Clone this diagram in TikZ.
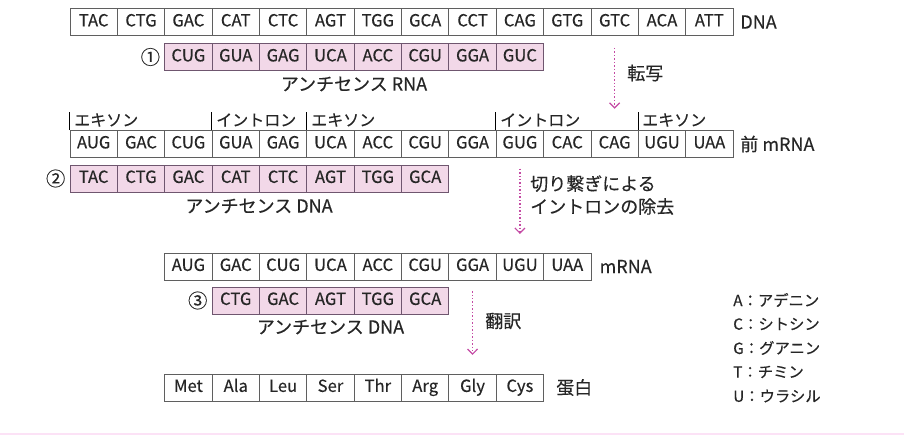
\documentclass[tikz,border=0pt]{standalone}
\usepackage{fontspec}
\setmainfont{Noto Sans CJK JP}[FakeBold=0.3]
\usetikzlibrary{positioning,arrows.meta}

\definecolor{antisense}{RGB}{242,216,232}
\definecolor{boxline}{RGB}{95,95,95}
\definecolor{flow}{RGB}{196,74,164}
\definecolor{rule}{RGB}{252,226,246}

\tikzset{
  codon/.style={draw=boxline, line width=0.6pt, minimum width=35.52pt,
    minimum height=20.25pt, inner sep=0pt, text height=0.66em, text depth=0pt},
  anti/.style={codon, fill=antisense, draw=boxline!90!magenta},
  tag/.style={inner sep=0pt, font=\fontsize{13.5}{16}\selectfont},
  seg/.style={inner sep=0pt, anchor=west, font=\fontsize{12}{14}\selectfont},
  base/.style={inner sep=0pt, anchor=west, font=\fontsize{11.5}{14}\selectfont},
  flowarrow/.style={draw=flow, line width=1.2pt, dash pattern=on 1.1pt off 1.5pt,
    -{Straight Barb[length=3.8pt,width=7.5pt,line width=0.9pt]}}
}

\begin{document}
\begin{tikzpicture}[x=0.75pt, y=-0.75pt, text=black!85,
  font=\fontsize{12.5}{15}\selectfont]
\useasboundingbox (0,0) rectangle (904,435);

% DNA
\foreach \c [count=\i] in {TAC,CTG,GAC,CAT,CTC,AGT,TGG,GCA,CCT,CAG,GTG,GTC,ACA,ATT}
  \node[codon] (dna\i) at ({70+47.36*(\i-0.5)},22) {\c};
\node[tag, right=5pt of dna14] (dna-label) {DNA};

% (1) antisense RNA
\foreach \c [count=\i] in {CUG,GUA,GAG,UCA,ACC,CGU,GGA,GUC}
  \node[anti] (asr\i) at ({70+47.36*(\i+1.5)},57) {\c};
\node[tag, left=3pt of asr1, font=\fontsize{14.5}{16}\selectfont] (num1) {①};
\node[tag] (asr-label) at (354,84) {アンチセンス RNA};

% transcription
\node[tag, anchor=west] (tx-label) at (627,73) {転写};

% pre-mRNA
\foreach \c [count=\i] in {AUG,GAC,CUG,GUA,GAG,UCA,ACC,CGU,GGA,GUG,CAC,CAG,UGU,UAA}
  \node[codon] (pre\i) at ({70+47.36*(\i-0.5)},144) {\c};
\node[tag, right=5pt of pre14] (pre-label) {前 mRNA};
\draw[line width=0.6pt] (pre1.north west) -- ++(0,-18);
\draw[line width=0.6pt] (pre4.north west) -- ++(0,-18);
\draw[line width=0.6pt] (pre6.north west) -- ++(0,-18);
\draw[line width=0.6pt] (pre10.north west) -- ++(0,-18);
\draw[line width=0.6pt] (pre13.north west) -- ++(0,-18);
\node[seg] (exon1) at (74,120) {エキソン};
\node[seg] (intron1) at (216,120) {イントロン};
\node[seg] (exon2) at (311,120) {エキソン};
\node[seg] (intron2) at (500,120) {イントロン};
\node[seg] (exon3) at (642,120) {エキソン};
\draw[flowarrow] ([yshift=-9pt]dna12.south) -- ([yshift=16pt]pre12.north);

% (2) antisense DNA
\foreach \c [count=\i] in {TAC,CTG,GAC,CAT,CTC,AGT,TGG,GCA}
  \node[anti] (asd\i) at ({70+47.36*(\i-0.5)},178.5) {\c};
\node[tag, left=3pt of asd1, font=\fontsize{14.5}{16}\selectfont] (num2) {②};
\node[tag] (asd-label) at (259,206) {アンチセンス DNA};

% splicing
\node[tag, anchor=north west, align=left] (splice-label) at (530,175)
  {切り繋ぎによる\\[1.2pt]イントロンの除去};

% mRNA
\foreach \c [count=\i] in {AUG,GAC,CUG,UCA,ACC,CGU,GGA,UGU,UAA}
  \node[codon] (mrna\i) at ({70+47.36*(\i+1.5)},266.5) {\c};
\node[tag, right=6pt of mrna9] (mrna-label) {mRNA};
\draw[flowarrow] ([yshift=-8pt]pre10.south) -- ([yshift=14pt]mrna8.north);

% (3) antisense DNA
\foreach \c [count=\i] in {CTG,GAC,AGT,TGG,GCA}
  \node[anti] (ast\i) at ({70+47.36*(\i+2.5)},300.5) {\c};
\node[tag, left=3pt of ast1, font=\fontsize{14.5}{16}\selectfont] (num3) {③};
\node[tag] (ast-label) at (330.5,327) {アンチセンス DNA};

% translation
\node[tag, anchor=west] (tl-label) at (485,321) {翻訳};

% protein
\foreach \c [count=\i] in {Met,Ala,Leu,Ser,Thr,Arg,Gly,Cys}
  \node[codon] (prot\i) at ({70+47.36*(\i+1.5)},387.5) {\c};
\node[tag, right=9pt of prot8] (prot-label) {蛋白};
\draw[flowarrow] ([yshift=-8pt]mrna7.south) -- ([yshift=14pt]prot7.north);

% bases
\node[base] (base-a) at (733,300) {A：アデニン};
\node[base] (base-c) at (733,324) {C：シトシン};
\node[base] (base-g) at (733,348) {G：グアニン};
\node[base] (base-t) at (733,372) {T：チミン};
\node[base] (base-u) at (733,396) {U：ウラシル};

\draw[rule, line width=1.5pt] (0,434) -- (904,434);
\end{tikzpicture}
\end{document}
